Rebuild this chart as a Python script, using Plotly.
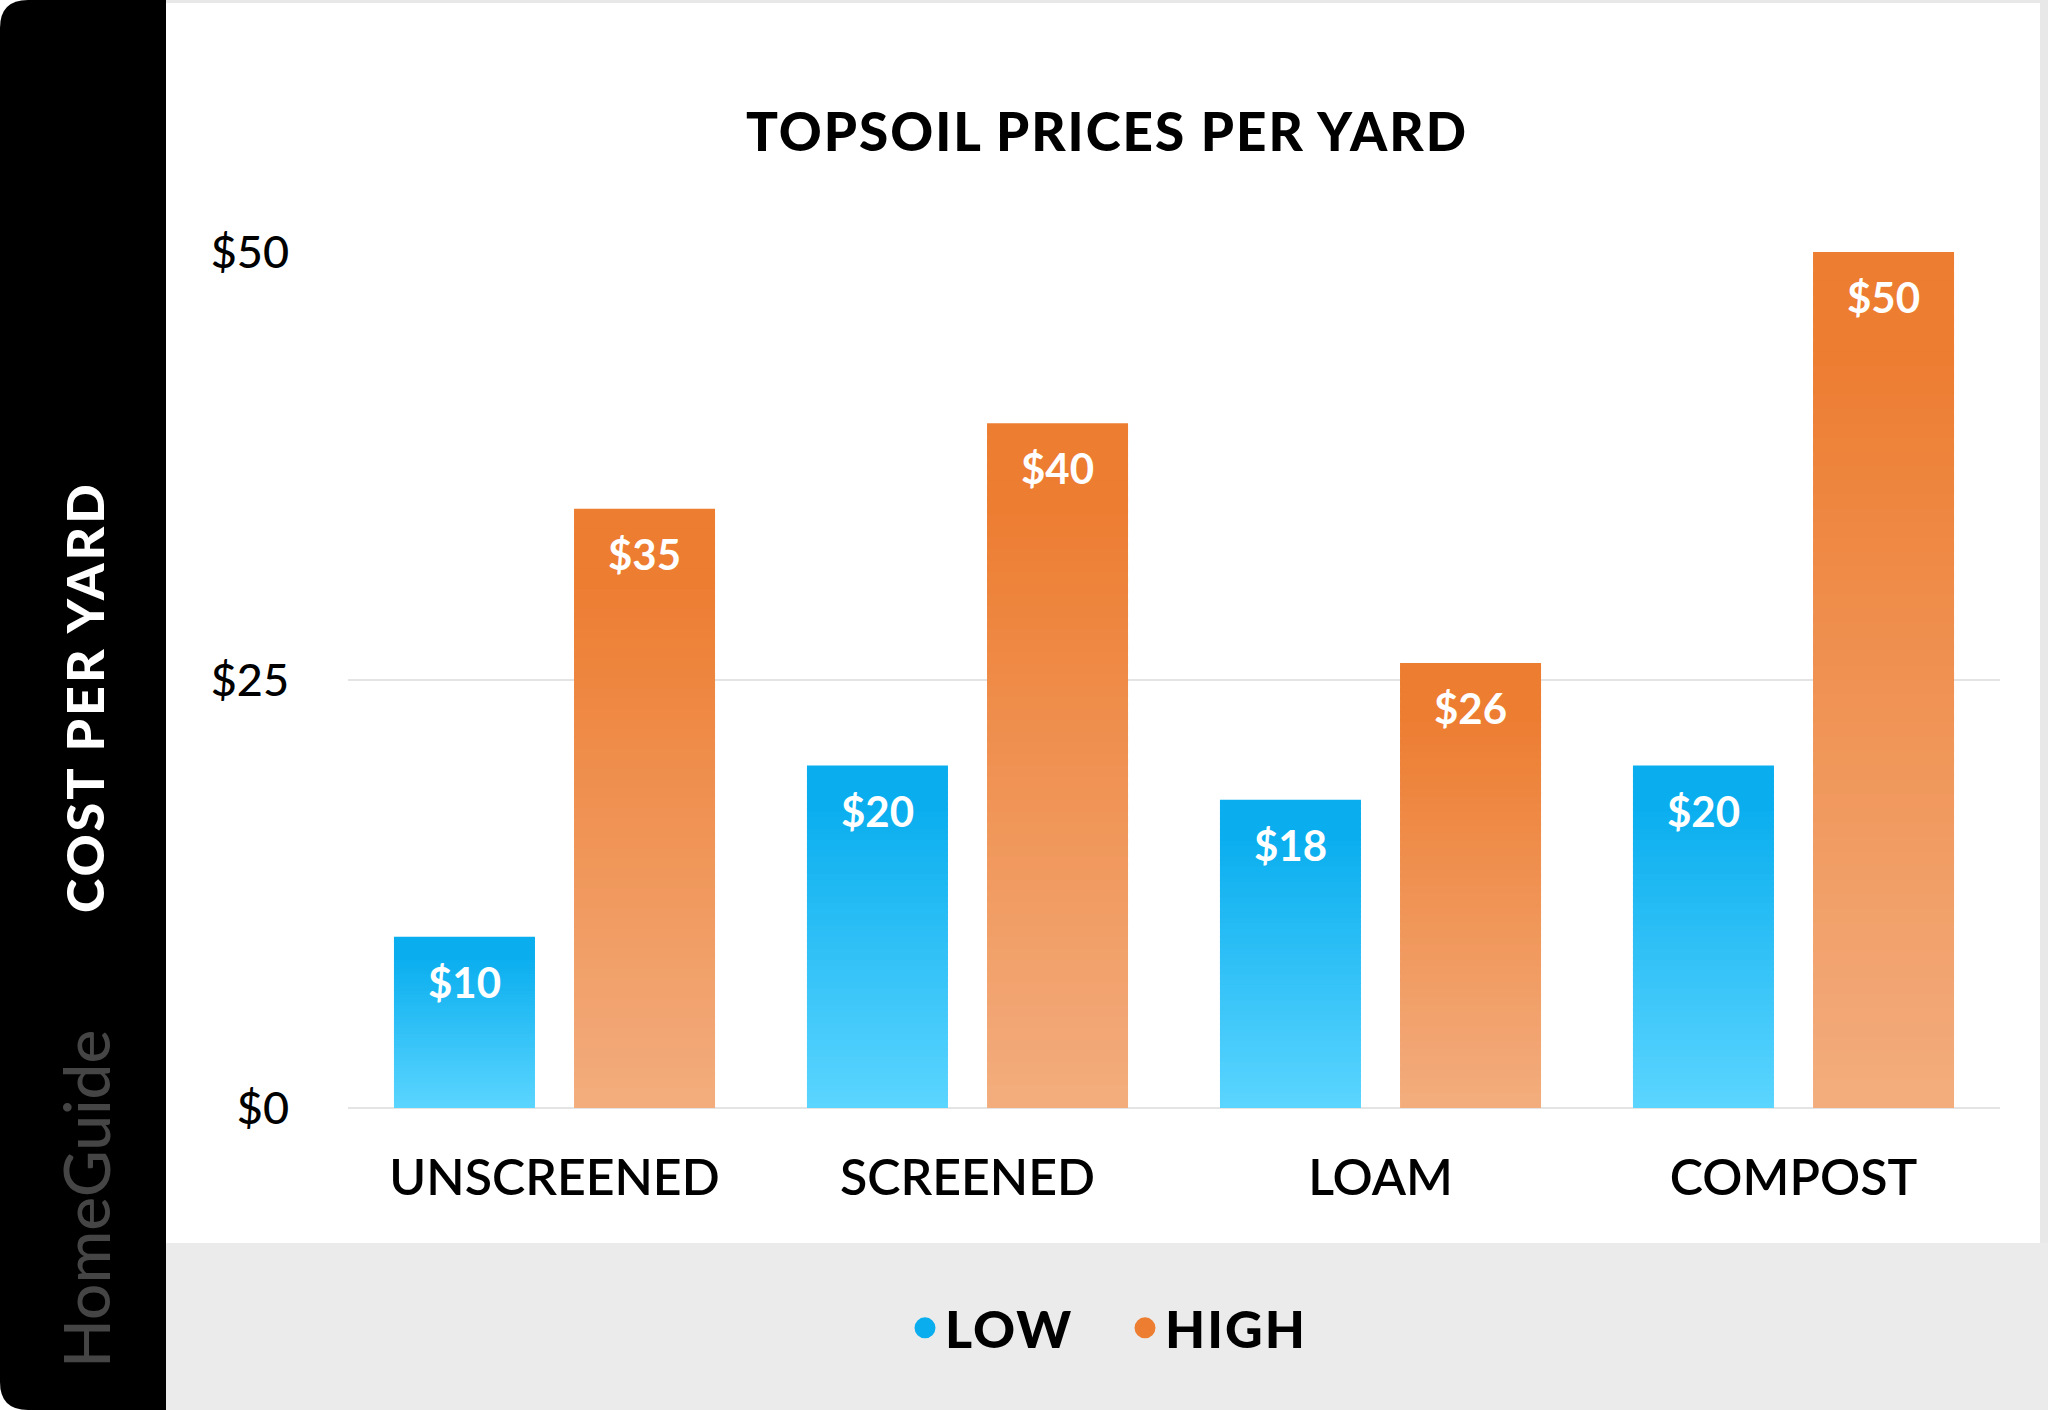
import plotly.graph_objects as go

# ---------------- data ----------------
categories = ["UNSCREENED", "SCREENED", "LOAM", "COMPOST"]
low_values = [10, 20, 18, 20]
high_values = [35, 40, 26, 50]
series_names = ["LOW", "HIGH"]
y_tick_values = [0, 25, 50]
y_tick_labels = ["$0", "$25", "$50"]
chart_title = "TOPSOIL PRICES PER YARD"
y_axis_title = "COST PER YARD"
brand_text = "HomeGuide"

# ---------------- styling ----------------
W, H = 2048, 1410
L, R, T, B = 348, 48, 252, 302
PW, PH = W - L - R, H - T - B
FONT = "Lato"

BLUE_TOP, BLUE_BOTTOM = (10, 174, 239), (91, 213, 255)
ORANGE_TOP, ORANGE_BOTTOM = (237, 125, 49), (243, 173, 126)
BAR_GAP = 0.128
GROUP_GAP = 0.217
N_SLICES = 60


def px(x):
    return (x - L) / PW


def py(y):
    return (H - B - y) / PH


def grad(top, bottom, f, flat=0.12):
    """f = fraction from top of bar (0 top, 1 bottom)"""
    t = max(0.0, (f - flat) / (1 - flat))
    c = [round(a + (b - a) * t) for a, b in zip(top, bottom)]
    return f"rgb({c[0]},{c[1]},{c[2]})"


def spaced(text, sp):
    return f"<span style='letter-spacing:{sp}px'>{text}</span>"


fig = go.Figure()

series = [
    (series_names[0], low_values, BLUE_TOP, BLUE_BOTTOM, "low"),
    (series_names[1], high_values, ORANGE_TOP, ORANGE_BOTTOM, "high"),
]

# gradient bars built from stacked slices (each slice is a real bar on the axes)
for name, vals, top, bottom, grp in series:
    for k in range(N_SLICES):
        base = [v * k / N_SLICES for v in vals]
        height = [min(v * (k + 1.6) / N_SLICES, v) - v * k / N_SLICES for v in vals]
        f = 1 - (k + 0.5) / N_SLICES
        fig.add_trace(go.Bar(
            x=categories, y=height, base=base, offsetgroup=grp,
            marker=dict(color=grad(top, bottom, f), line=dict(width=0)),
            showlegend=False, hoverinfo="skip",
        ))

# value labels inside the bars
for name, vals, top, bottom, grp in series:
    fig.add_trace(go.Scatter(
        x=categories, y=vals, offsetgroup=grp, mode="markers+text",
        text=[f"${v}" for v in vals], textposition="bottom center",
        marker=dict(size=46, color="rgba(0,0,0,0)"),
        textfont=dict(family=FONT, size=42, color="white", weight="bold"),
        showlegend=False, hoverinfo="skip", cliponaxis=False,
    ))

# legend entries (circle markers)
for name, vals, top, bottom, grp in series:
    col = f"rgb({top[0]},{top[1]},{top[2]})"
    fig.add_trace(go.Scatter(
        x=[None], y=[None], mode="markers", name=spaced(name, 2),
        marker=dict(size=16, color=col, line=dict(color=col, width=5)),
    ))

shapes = []
# top & right card border
shapes.append(dict(type="rect", xref="paper", yref="paper", x0=px(150), x1=px(W), y0=py(0), y1=py(3),
                   fillcolor="#E8E8E8", line=dict(width=0), layer="below"))
shapes.append(dict(type="rect", xref="paper", yref="paper", x0=px(2040), x1=px(W), y0=py(0), y1=py(H),
                   fillcolor="#E8E8E8", line=dict(width=0), layer="below"))
# bottom legend band
shapes.append(dict(type="rect", xref="paper", yref="paper", x0=px(150), x1=px(W), y0=py(1243), y1=py(H),
                   fillcolor="#EBEBEB", line=dict(width=0), layer="below"))
# black sidebar with rounded left corners
r = 28
x0s, x1s = 0, 166
path = (f"M {px(x0s + r)},{py(0)} L {px(x1s)},{py(0)} L {px(x1s)},{py(H)} L {px(x0s + r)},{py(H)} "
        f"Q {px(x0s)},{py(H)} {px(x0s)},{py(H - r)} L {px(x0s)},{py(r)} "
        f"Q {px(x0s)},{py(0)} {px(x0s + r)},{py(0)} Z")
shapes.append(dict(type="path", xref="paper", yref="paper", path=path,
                   fillcolor="black", line=dict(width=0), layer="below"))

annotations = [
    dict(text=spaced(y_axis_title, 3), x=px(84), y=py(697), xref="paper", yref="paper", showarrow=False,
         textangle=-90, xanchor="center", yanchor="middle",
         font=dict(family=FONT, size=52, color="white", weight=900)),
    dict(text=brand_text, x=px(85), y=py(1199), xref="paper", yref="paper", showarrow=False,
         textangle=-90, xanchor="center", yanchor="middle",
         font=dict(family=FONT, size=64, color="#454545", weight=500)),
]

fig.update_layout(
    width=W, height=H,
    margin=dict(l=L, r=R, t=T, b=B, pad=0),
    paper_bgcolor="white", plot_bgcolor="white",
    barmode="group", bargap=BAR_GAP, bargroupgap=GROUP_GAP,
    scattermode="group", scattergap=BAR_GAP,
    title=dict(text=spaced(chart_title, 2), x=1107 / W, y=1 - 132 / H, xref="container", yref="container",
               xanchor="center", yanchor="middle",
               font=dict(family=FONT, size=53, color="black", weight=900)),
    shapes=shapes, annotations=annotations,
    showlegend=True,
    legend=dict(orientation="h", x=px(1125), y=py(1328), xanchor="center", yanchor="middle",
                font=dict(family=FONT, size=52, color="black", weight=900),
                bgcolor="rgba(0,0,0,0)", itemsizing="trace", traceorder="normal",
                entrywidth=175),
    font=dict(family=FONT),
)

fig.update_xaxes(
    type="category", categoryorder="array", categoryarray=categories,
    showgrid=False, showline=False, zeroline=False, ticks="",
    ticklabelstandoff=36,
    tickfont=dict(family=FONT, size=50, color="black", weight=600),
    fixedrange=True,
)
fig.update_yaxes(
    range=[0, 50], tickvals=y_tick_values, ticktext=y_tick_labels,
    showgrid=True, gridcolor="#E4E4E4", gridwidth=2,
    zeroline=True, zerolinecolor="#E4E4E4", zerolinewidth=2,
    showline=False, ticks="", ticklabelstandoff=58,
    tickfont=dict(family=FONT, size=45, color="black", weight=500),
    fixedrange=True,
)

fig.write_html("out.html", config={"displayModeBar": False},
               post_script="document.body.style.margin='0';")
